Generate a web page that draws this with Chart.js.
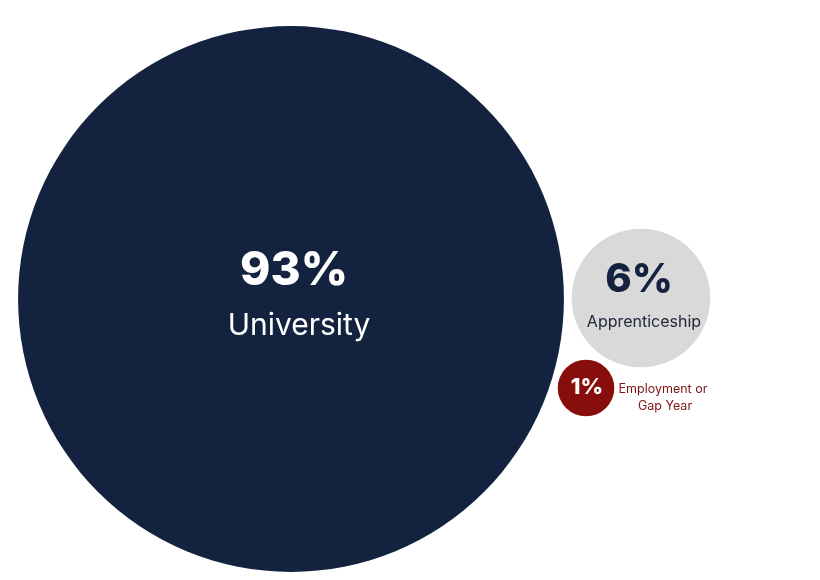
<!DOCTYPE html>
<html>
<head>
<meta charset="utf-8">
<script src="https://cdn.jsdelivr.net/npm/chart.js@4.4.1/dist/chart.umd.min.js"></script>
<style>
  html, body { margin: 0; padding: 0; background: #ffffff; }
  #wrap { width: 820px; height: 580px; position: relative; }
</style>
</head>
<body>
<div id="wrap"><canvas id="c"></canvas></div>
<script>
// ---- data ----
const categories = ["University", "Apprenticeship", "Employment or Gap Year"];
const percentages = [93, 6, 1];
// packed-bubble layout positions (scale units)
const posX = [291, 641, 586];
const posY = [299, 298, 388];
const colours = ["#13223f", "#d9d9da", "#880e0e"];

const RADIUS_PER_SQRT = 28.3; // bubble area proportional to value

const labelPlugin = {
  id: 'bubbleLabels',
  afterDatasetsDraw(chart) {
    const ctx = chart.ctx;
    const meta = chart.getDatasetMeta(0);
    ctx.save();
    ctx.textAlign = 'center';
    ctx.textBaseline = 'middle';
    // University
    let p = meta.data[0];
    ctx.fillStyle = '#ffffff';
    ctx.font = '800 46px Inter, "Open Sans", sans-serif';
    ctx.fillText(percentages[0] + '%', p.x + 3, p.y - 28);
    ctx.font = '400 30px Inter, "Open Sans", sans-serif';
    ctx.fillText(categories[0], p.x + 8, p.y + 27);
    // Apprenticeship
    p = meta.data[1];
    ctx.fillStyle = '#13223f';
    ctx.font = '800 40px Inter, "Open Sans", sans-serif';
    ctx.fillText(percentages[1] + '%', p.x - 2, p.y - 18);
    ctx.fillStyle = '#22283a';
    ctx.font = '400 16px Inter, "Open Sans", sans-serif';
    ctx.fillText(categories[1], p.x + 3, p.y + 24);
    // Employment or Gap Year
    p = meta.data[2];
    ctx.fillStyle = '#ffffff';
    ctx.font = '800 22px Inter, "Open Sans", sans-serif';
    ctx.fillText(percentages[2] + '%', p.x + 1, p.y - 1);
    ctx.fillStyle = '#7d1414';
    ctx.font = '400 12.5px Inter, "Open Sans", sans-serif';
    ctx.fillText('Employment or', p.x + 77, p.y + 1);
    ctx.fillText('Gap Year', p.x + 79, p.y + 18);
    ctx.restore();
  }
};

new Chart(document.getElementById('c'), {
  type: 'bubble',
  data: {
    labels: categories,
    datasets: [{
      data: categories.map((c, i) => ({ x: posX[i], y: posY[i], v: percentages[i] })),
      backgroundColor: colours,
      borderWidth: 0,
      hoverBorderWidth: 0,
      radius: (ctx) => RADIUS_PER_SQRT * Math.sqrt(ctx.raw ? ctx.raw.v : 0),
      clip: false
    }]
  },
  options: {
    responsive: true,
    maintainAspectRatio: false,
    animation: false,
    layout: { padding: 0, autoPadding: false },
    events: [],
    scales: {
      x: { type: 'linear', min: 0, max: 820, display: false },
      y: { type: 'linear', min: 0, max: 580, reverse: true, display: false }
    },
    plugins: {
      legend: { display: false },
      tooltip: { enabled: false },
      title: { display: false }
    }
  },
  plugins: [labelPlugin]
});
</script>
</body>
</html>
